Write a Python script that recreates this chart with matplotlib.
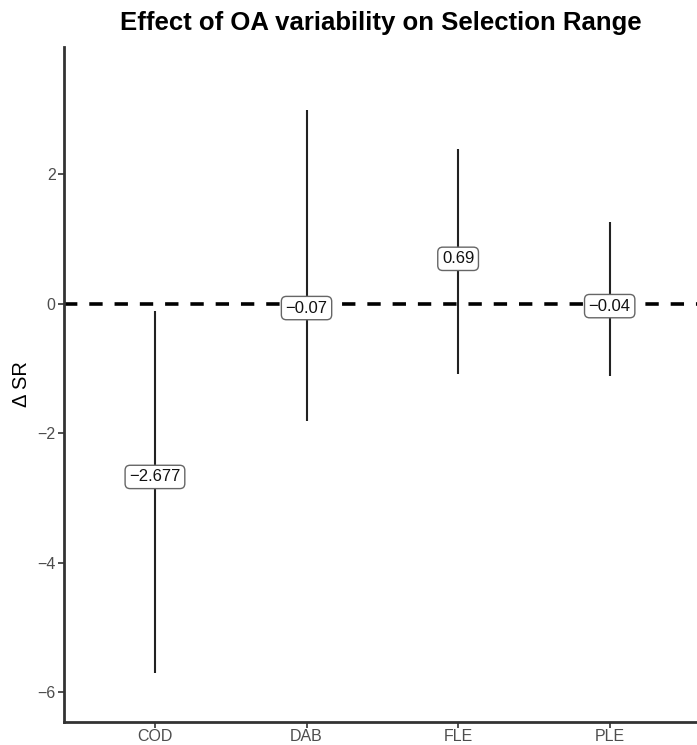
import matplotlib.pyplot as plt

plt.rcParams['font.family'] = ['Liberation Sans', 'DejaVu Sans']

especies = ['COD', 'DAB', 'FLE', 'PLE']
media = [-2.677, -0.07, 0.69, -0.04]
inferior = [-5.71, -1.81, -1.09, -1.12]
superior = [-0.12, 2.98, 2.38, 1.26]
rotulos = ['\u22122.677', '\u22120.07', '0.69', '\u22120.04']

fig = plt.figure(figsize=(6.97, 7.45), dpi=100)
ax = fig.add_axes([64 / 697, 1 - 722 / 745, 1 - 64 / 697, (722 - 47) / 745])

x = list(range(1, len(especies) + 1))

# linha de referencia em zero
ax.axhline(0, color='black', linewidth=2.6, linestyle=(0, (3.7, 3.3)), zorder=1)

# intervalos
ax.vlines(x, inferior, superior, color='#222222', linewidth=1.5, zorder=2)

# rotulos com a media
for xi, m, r in zip(x, media, rotulos):
    ax.text(xi, m, r, ha='center', va='center', fontsize=12, color='#111111',
            bbox=dict(boxstyle='round,pad=0.25,rounding_size=0.3',
                      facecolor='white', edgecolor='#666666', linewidth=1.0),
            zorder=3)

ax.set_xlim(0.4, 4.576)
ax.set_ylim(-6.46, 3.96)
ax.set_xticks(x)
ax.set_xticklabels(especies)
ax.set_yticks([-6, -4, -2, 0, 2])
ax.set_yticklabels(['\u22126', '\u22124', '\u22122', '0', '2'])

for lado in ['top', 'right']:
    ax.spines[lado].set_visible(False)
for lado in ['left', 'bottom']:
    ax.spines[lado].set_color('#333333')
    ax.spines[lado].set_linewidth(2.0)

ax.tick_params(axis='both', colors='#333333', labelcolor='#4d4d4d',
               labelsize=11.5, length=4, width=1.2, pad=2)
ax.tick_params(axis='x', pad=1)

ax.set_ylabel('\u0394 SR', fontsize=14.5, color='black')
ax.yaxis.set_label_coords(-0.052, 0.5)
fig.text((64 + 697) / 2 / 697, 1 - 23 / 745, 'Effect of OA variability on Selection Range',
         ha='center', va='center', fontsize=18.5, fontweight='bold')

fig.savefig('out.png', dpi=100)
